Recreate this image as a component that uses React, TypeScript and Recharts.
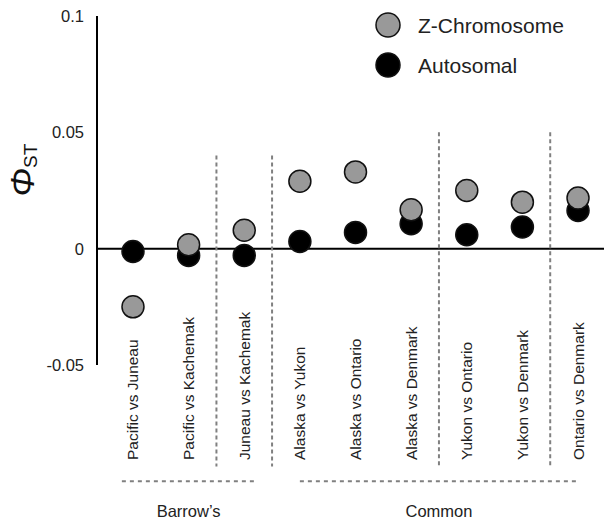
import React from 'react'
import {
  ScatterChart,
  Scatter,
  XAxis,
  YAxis,
  ReferenceLine,
  Legend,
} from 'recharts'

const CATEGORIES = [
  'Pacific vs Juneau',
  'Pacific vs Kachemak',
  'Juneau vs Kachemak',
  'Alaska vs Yukon',
  'Alaska vs Ontario',
  'Alaska vs Denmark',
  'Yukon vs Ontario',
  'Yukon vs Denmark',
  'Ontario vs Denmark',
]
const Z_CHROMOSOME = [-0.025, 0.0017, 0.0079, 0.029, 0.033, 0.0167, 0.025, 0.02, 0.0218]
const AUTOSOMAL = [-0.0012, -0.0029, -0.0029, 0.0031, 0.007, 0.0107, 0.006, 0.0093, 0.0164]
const Y_TICKS = [-0.05, 0, 0.05, 0.1]
const Y_TICK_LABELS = ['-0.05', '0', '0.05', '0.1']
// dividers sit between category indices
const DIVIDERS = [1.5, 2.5, 5.5, 7.5]
const DIVIDER_TOPS = [0.04, 0.04, 0.05, 0.05]
const GROUPS = ['Barrow\u2019s', 'Common']
const GROUP_FROM = [-0.2, 3]
const GROUP_TO = [2.2, 8]

const FONT = '"Liberation Sans", Arial, sans-serif'
const DIVIDER_BOTTOM = -0.0936
const GROUP_LINE_Y = -0.1

const zData = CATEGORIES.map((c, i) => ({ x: i, y: Z_CHROMOSOME[i], name: c }))
const aData = CATEGORIES.map((c, i) => ({ x: i, y: AUTOSOMAL[i], name: c }))

const LEGEND_ITEMS = [
  { name: 'Z-Chromosome', fill: '#999999' },
  { name: 'Autosomal', fill: '#000000' },
]

function Dot(fill: string) {
  return (props: any) => (
    <circle cx={props.cx} cy={props.cy} r={11} fill={fill} stroke="#111" strokeWidth={1.5} />
  )
}

function XTick(props: any) {
  const { x, payload } = props
  const y = 460
  return (
    <text
      x={x}
      y={y}
      transform={`rotate(-90, ${x}, ${y})`}
      textAnchor="start"
      dominantBaseline="central"
      fontFamily={FONT}
      fontSize={15.5}
      fill="#222"
    >
      {CATEGORIES[payload.value]}
    </text>
  )
}

function YTick(props: any) {
  const { x, y, payload } = props
  const idx = Y_TICKS.indexOf(payload.value)
  return (
    <text
      x={x}
      y={y}
      textAnchor="end"
      dominantBaseline="central"
      fontFamily={FONT}
      fontSize={16.5}
      fill="#222"
    >
      {Y_TICK_LABELS[idx]}
    </text>
  )
}

function YLabel() {
  return (
    <text
      x={22}
      y={170}
      transform="rotate(-90, 22, 170)"
      textAnchor="middle"
      dominantBaseline="central"
      fontFamily={FONT}
      fill="#111"
    >
      <tspan fontSize={34} fontStyle="italic">Φ</tspan>
      <tspan fontSize={19} dy={8}>ST</tspan>
    </text>
  )
}

function LegendContent() {
  return (
    <svg width={230} height={90}>
      {LEGEND_ITEMS.map((it, i) => (
        <g key={it.name}>
          <circle cx={18} cy={25 + i * 40} r={12} fill={it.fill} stroke="#111" strokeWidth={1.5} />
          <text
            x={48}
            y={25 + i * 40}
            dominantBaseline="central"
            fontFamily={FONT}
            fontSize={21}
            fill="#222"
          >
            {it.name}
          </text>
        </g>
      ))}
    </svg>
  )
}

export default function App() {
  return (
    <div style={{ position: 'absolute', left: 0, top: 0, background: '#fff' }}>
      <ScatterChart width={604} height={521} margin={{ top: 16, right: 0, bottom: 0, left: 0 }}>
        <XAxis
          type="number"
          dataKey="x"
          domain={[-0.647, 8.467]}
          ticks={CATEGORIES.map((_, i) => i)}
          interval={0}
          height={156}
          axisLine={false}
          tickLine={false}
          tick={<XTick />}
          allowDataOverflow
        />
        <YAxis
          type="number"
          dataKey="y"
          domain={[-0.05, 0.1]}
          ticks={Y_TICKS}
          width={97}
          axisLine={{ stroke: '#000', strokeWidth: 2 }}
          tickLine={false}
          tickSize={0}
          tickMargin={13}
          tick={<YTick />}
          label={<YLabel />}
          allowDataOverflow
        />
        <ReferenceLine y={0} stroke="#000" strokeWidth={2} />
        {DIVIDERS.map((d, i) => (
          <ReferenceLine
            key={'div' + i}
            segment={[
              { x: d, y: DIVIDER_TOPS[i] },
              { x: d, y: DIVIDER_BOTTOM },
            ]}
            stroke="#808080"
            strokeWidth={2}
            strokeDasharray="4 3"
            ifOverflow="visible"
          />
        ))}
        {GROUPS.map((g, i) => (
          <ReferenceLine
            key={'grp' + i}
            segment={[
              { x: GROUP_FROM[i], y: GROUP_LINE_Y },
              { x: GROUP_TO[i], y: GROUP_LINE_Y },
            ]}
            stroke="#808080"
            strokeWidth={2}
            strokeDasharray="4 4"
            ifOverflow="visible"
            label={{
              value: g,
              position: 'bottom',
              offset: 24,
              fill: '#222',
              fontSize: 16.5,
              fontFamily: FONT,
            }}
          />
        ))}
        <Scatter name="Autosomal" data={aData} shape={Dot('#000000')} isAnimationActive={false} />
        <Scatter name="Z-Chromosome" data={zData} shape={Dot('#999999')} isAnimationActive={false} />
        <Legend
          layout="vertical"
          align="center"
          verticalAlign="middle"
          content={<LegendContent />}
          wrapperStyle={{ position: 'absolute', top: 0, left: 370, width: 230, height: 90 }}
        />
      </ScatterChart>
    </div>
  )
}
